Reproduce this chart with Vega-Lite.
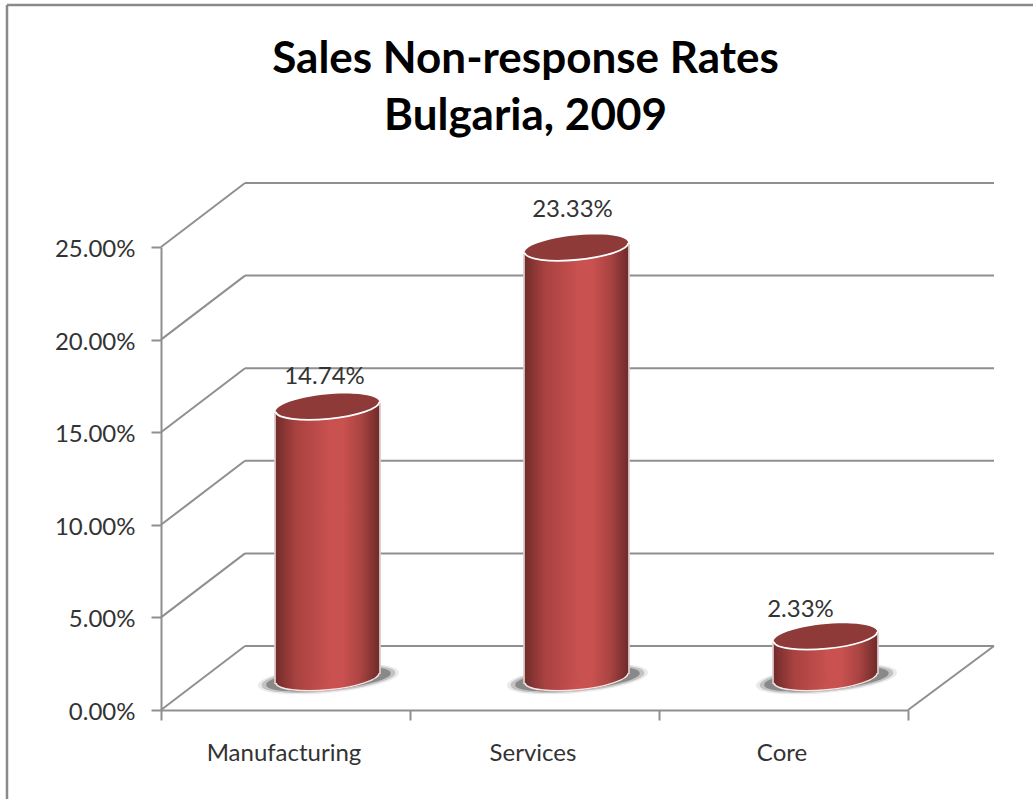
{
  "$schema": "https://vega.github.io/schema/vega-lite/v6.json",
  "width": 1033,
  "height": 799,
  "padding": 0,
  "autosize": "none",
  "background": "white",
  "title": {
    "text": ["Sales Non-response Rates", "Bulgaria, 2009"],
    "font": "Lato",
    "fontWeight": "bold",
    "fontSize": 44,
    "lineHeight": 57,
    "color": "#000000",
    "anchor": "middle",
    "frame": "group",
    "dx": 9,
    "dy": 143
  },
  "config": {"view": {"stroke": null}},
  "datasets": {
    "rates": [
      {"sector": "Manufacturing", "rate": 0.1474},
      {"sector": "Services", "rate": 0.2333},
      {"sector": "Core", "rate": 0.0233}
    ],
    "levels": [
      {"level": 0},
      {"level": 0.05},
      {"level": 0.1},
      {"level": 0.15},
      {"level": 0.2},
      {"level": 0.25}
    ]
  },
  "resolve": {"scale": {"x": "independent"}},
  "layer": [
    {
      "description": "Outer frame, top edge; this layer also carries the rate axis",
      "data": {"values": [{"edge": "top"}]},
      "mark": {"type": "rule", "color": "#8a8a8a", "strokeWidth": 2.5},
      "encoding": {
        "x": {"datum": 0, "type": "quantitative", "scale": {"domain": [0, 1], "range": [7, 1033]}, "axis": null},
        "x2": {"datum": 1},
        "y": {
          "datum": 0.3807,
          "type": "quantitative",
          "scale": {"domain": [0, 0.25], "range": [710, 247], "nice": false, "zero": false},
          "axis": {
            "orient": "left",
            "offset": -161,
            "values": [0, 0.05, 0.1, 0.15, 0.2, 0.25],
            "format": ".2%",
            "grid": false,
            "title": null,
            "domainColor": "#8f8f8f",
            "domainWidth": 2,
            "tickColor": "#8f8f8f",
            "tickWidth": 2,
            "tickSize": 10,
            "labelFont": "Lato",
            "labelFontSize": 24,
            "labelColor": "#333333",
            "labelPadding": 16,
            "labelOffset": 2.5
          }
        }
      }
    },
    {
      "description": "Outer frame, left edge",
      "data": {"values": [{"edge": "left"}]},
      "mark": {"type": "rule", "color": "#8a8a8a", "strokeWidth": 2.5},
      "encoding": {
        "x": {"datum": 0, "type": "quantitative", "scale": {"domain": [0, 1], "range": [7, 1033]}, "axis": null},
        "y": {"datum": 0.3807, "type": "quantitative"},
        "y2": {"datum": -0.0481}
      }
    },
    {
      "description": "Back wall gridlines",
      "data": {"name": "levels"},
      "mark": {"type": "rule", "color": "#8f8f8f", "strokeWidth": 2, "xOffset": 84, "x2Offset": 86, "yOffset": -64, "y2Offset": -64},
      "encoding": {
        "x": {"datum": 0, "type": "quantitative", "scale": {"domain": [0, 3], "range": [161, 908]}, "axis": null},
        "x2": {"datum": 3},
        "y": {"field": "level", "type": "quantitative"},
        "y2": {"field": "level"}
      }
    },
    {
      "description": "Side wall gridlines running from the front axis to the back wall",
      "data": {"name": "levels"},
      "mark": {"type": "rule", "color": "#8f8f8f", "strokeWidth": 2, "x2Offset": 84, "y2Offset": -64},
      "encoding": {
        "x": {"datum": 0, "type": "quantitative", "scale": {"domain": [0, 3], "range": [161, 908]}, "axis": null},
        "x2": {"datum": 0},
        "y": {"field": "level", "type": "quantitative"},
        "y2": {"field": "level"}
      }
    },
    {
      "description": "Right edge of the floor",
      "data": {"values": [{"level": 0}]},
      "mark": {"type": "rule", "color": "#8f8f8f", "strokeWidth": 2, "x2Offset": 86, "y2Offset": -64},
      "encoding": {
        "x": {"datum": 3, "type": "quantitative", "scale": {"domain": [0, 3], "range": [161, 908]}, "axis": null},
        "x2": {"datum": 3},
        "y": {"field": "level", "type": "quantitative"},
        "y2": {"field": "level"}
      }
    },
    {
      "description": "Soft floor shadow, outer",
      "data": {"name": "rates"},
      "mark": {"type": "point", "filled": true, "fill": "#888888", "stroke": null, "opacity": 0.18, "xOffset": 43, "yOffset": -31, "size": 20000,
        "shape": "M-0.995,0.096A1,0.19,-5.5,1,1,0.995,-0.096A1,0.19,-5.5,1,1,-0.995,0.096Z"},
      "encoding": {
        "x": {"field": "sector", "type": "nominal", "sort": null, "scale": {"type": "band", "domain": ["Manufacturing", "Services", "Core"], "range": [161, 908], "padding": 0}, "axis": null},
        "y": {"datum": 0, "type": "quantitative"}
      }
    },
    {
      "description": "Soft floor shadow, middle",
      "data": {"name": "rates"},
      "mark": {"type": "point", "filled": true, "fill": "#666666", "stroke": null, "opacity": 0.3, "xOffset": 43, "yOffset": -31, "size": 18000,
        "shape": "M-0.995,0.096A1,0.18,-5.5,1,1,0.995,-0.096A1,0.18,-5.5,1,1,-0.995,0.096Z"},
      "encoding": {
        "x": {"field": "sector", "type": "nominal", "sort": null, "scale": {"type": "band", "domain": ["Manufacturing", "Services", "Core"], "range": [161, 908], "padding": 0}, "axis": null},
        "y": {"datum": 0, "type": "quantitative"}
      }
    },
    {
      "description": "Soft floor shadow, inner",
      "data": {"name": "rates"},
      "mark": {"type": "point", "filled": true, "fill": "#444444", "stroke": null, "opacity": 0.45, "xOffset": 43, "yOffset": -31, "size": 15600,
        "shape": "M-0.995,0.096A1,0.17,-5.5,1,1,0.995,-0.096A1,0.17,-5.5,1,1,-0.995,0.096Z"},
      "encoding": {
        "x": {"field": "sector", "type": "nominal", "sort": null, "scale": {"type": "band", "domain": ["Manufacturing", "Services", "Core"], "range": [161, 908], "padding": 0}, "axis": null},
        "y": {"datum": 0, "type": "quantitative"}
      }
    },
    {
      "description": "Column base",
      "data": {"name": "rates"},
      "mark": {"type": "point", "filled": true, "stroke": null, "opacity": 1, "xOffset": 42, "yOffset": -32, "size": 10816,
        "fill": {"gradient": "linear", "x1": 0, "x2": 1, "y1": 0, "y2": 0, "stops": [
          {"offset": 0, "color": "#6f2b2a"}, {"offset": 0.2, "color": "#a84240"}, {"offset": 0.5, "color": "#c9514f"},
          {"offset": 0.65, "color": "#c9514f"}, {"offset": 0.82, "color": "#a94442"}, {"offset": 1, "color": "#6a2928"}]},
        "shape": "M-0.995,0.096A1,0.235,-5.5,1,1,0.995,-0.096A1,0.235,-5.5,1,1,-0.995,0.096Z"},
      "encoding": {
        "x": {"field": "sector", "type": "nominal", "sort": null, "scale": {"type": "band", "domain": ["Manufacturing", "Services", "Core"], "range": [161, 908], "padding": 0}, "axis": null},
        "y": {"datum": 0, "type": "quantitative"}
      }
    },
    {
      "description": "Column body, left half; this layer also carries the category axis",
      "data": {"name": "rates"},
      "mark": {"type": "bar", "width": 56, "xOffset": 17, "yOffset": -24, "y2Offset": -26, "stroke": null,
        "fill": {"gradient": "linear", "x1": 0, "x2": 1, "y1": 0, "y2": 0, "stops": [
          {"offset": 0, "color": "#6f2b2a"}, {"offset": 0.38, "color": "#a84240"}, {"offset": 1, "color": "#c9514f"}]}},
      "encoding": {
        "x": {
          "field": "sector",
          "type": "nominal",
          "sort": null,
          "scale": {"type": "band", "domain": ["Manufacturing", "Services", "Core"], "range": [161, 908], "padding": 0},
          "axis": {
            "orient": "bottom",
            "offset": -89,
            "title": null,
            "labelAngle": 0,
            "tickBand": "extent",
            "domainColor": "#8f8f8f",
            "domainWidth": 2,
            "tickColor": "#8f8f8f",
            "tickWidth": 2,
            "tickSize": 10,
            "labelFont": "Lato",
            "labelFontSize": 24,
            "labelColor": "#333333",
            "labelPadding": 21,
            "labelOffset": -2
          }
        },
        "y": {"field": "rate", "type": "quantitative"},
        "y2": {"datum": 0}
      }
    },
    {
      "description": "Column body, right half",
      "data": {"name": "rates"},
      "mark": {"type": "bar", "width": 53, "xOffset": 68.5, "yOffset": -34, "y2Offset": -36, "stroke": null,
        "fill": {"gradient": "linear", "x1": 0, "x2": 1, "y1": 0, "y2": 0, "stops": [
          {"offset": 0, "color": "#c9514f"}, {"offset": 0.3, "color": "#c9514f"}, {"offset": 0.64, "color": "#a94442"}, {"offset": 1, "color": "#6a2928"}]}},
      "encoding": {
        "x": {"field": "sector", "type": "nominal", "sort": null, "scale": {"type": "band", "domain": ["Manufacturing", "Services", "Core"], "range": [161, 908], "padding": 0}, "axis": null},
        "y": {"field": "rate", "type": "quantitative"},
        "y2": {"datum": 0}
      }
    },
    {
      "description": "Pale outline on the left side of each column",
      "data": {"name": "rates"},
      "mark": {"type": "rule", "color": "#f2e6e6", "strokeWidth": 1.5, "xOffset": -10.5, "yOffset": -24, "y2Offset": -26},
      "encoding": {
        "x": {"field": "sector", "type": "nominal", "sort": null, "scale": {"type": "band", "domain": ["Manufacturing", "Services", "Core"], "range": [161, 908], "padding": 0}, "axis": null},
        "y": {"field": "rate", "type": "quantitative"},
        "y2": {"datum": 0}
      }
    },
    {
      "description": "Pale outline on the right side of each column",
      "data": {"name": "rates"},
      "mark": {"type": "rule", "color": "#f2e6e6", "strokeWidth": 1.5, "xOffset": 94.5, "yOffset": -34, "y2Offset": -36},
      "encoding": {
        "x": {"field": "sector", "type": "nominal", "sort": null, "scale": {"type": "band", "domain": ["Manufacturing", "Services", "Core"], "range": [161, 908], "padding": 0}, "axis": null},
        "y": {"field": "rate", "type": "quantitative"},
        "y2": {"datum": 0}
      }
    },
    {
      "description": "Pale rim along the lower edge of the base",
      "data": {"name": "rates"},
      "mark": {"type": "point", "filled": false, "fill": null, "stroke": "#f2e6e6", "strokeWidth": 1.5, "opacity": 1, "xOffset": 42, "yOffset": -32, "size": 10816,
        "shape": "M-0.995,0.096A1,0.235,-5.5,0,0,0.995,-0.096"},
      "encoding": {
        "x": {"field": "sector", "type": "nominal", "sort": null, "scale": {"type": "band", "domain": ["Manufacturing", "Services", "Core"], "range": [161, 908], "padding": 0}, "axis": null},
        "y": {"datum": 0, "type": "quantitative"}
      }
    },
    {
      "description": "Column top",
      "data": {"name": "rates"},
      "mark": {"type": "point", "filled": true, "fill": "#8d3a38", "stroke": null, "opacity": 1, "xOffset": 42, "yOffset": -30, "size": 10816,
        "shape": "M-0.995,0.096A1,0.235,-5.5,1,1,0.995,-0.096A1,0.235,-5.5,1,1,-0.995,0.096Z"},
      "encoding": {
        "x": {"field": "sector", "type": "nominal", "sort": null, "scale": {"type": "band", "domain": ["Manufacturing", "Services", "Core"], "range": [161, 908], "padding": 0}, "axis": null},
        "y": {"field": "rate", "type": "quantitative"}
      }
    },
    {
      "description": "White rim along the lower edge of the top",
      "data": {"name": "rates"},
      "mark": {"type": "point", "filled": false, "fill": null, "stroke": "#ffffff", "strokeWidth": 1.8, "opacity": 1, "xOffset": 42, "yOffset": -30, "size": 10816,
        "shape": "M-0.995,0.096A1,0.235,-5.5,0,0,0.995,-0.096"},
      "encoding": {
        "x": {"field": "sector", "type": "nominal", "sort": null, "scale": {"type": "band", "domain": ["Manufacturing", "Services", "Core"], "range": [161, 908], "padding": 0}, "axis": null},
        "y": {"field": "rate", "type": "quantitative"}
      }
    },
    {
      "description": "Value label, Manufacturing",
      "data": {"name": "rates"},
      "transform": [{"filter": "datum.sector === 'Manufacturing'"}],
      "mark": {"type": "text", "font": "Lato", "fontSize": 24, "color": "#333333", "dx": 39, "dy": -60, "baseline": "middle"},
      "encoding": {
        "x": {"field": "sector", "type": "nominal", "sort": null, "scale": {"type": "band", "domain": ["Manufacturing", "Services", "Core"], "range": [161, 908], "padding": 0}, "axis": null},
        "y": {"field": "rate", "type": "quantitative"},
        "text": {"field": "rate", "type": "quantitative", "format": ".2%"}
      }
    },
    {
      "description": "Value label, Services",
      "data": {"name": "rates"},
      "transform": [{"filter": "datum.sector === 'Services'"}],
      "mark": {"type": "text", "font": "Lato", "fontSize": 24, "color": "#333333", "dx": 38, "dy": -68, "baseline": "middle"},
      "encoding": {
        "x": {"field": "sector", "type": "nominal", "sort": null, "scale": {"type": "band", "domain": ["Manufacturing", "Services", "Core"], "range": [161, 908], "padding": 0}, "axis": null},
        "y": {"field": "rate", "type": "quantitative"},
        "text": {"field": "rate", "type": "quantitative", "format": ".2%"}
      }
    },
    {
      "description": "Value label, Core",
      "data": {"name": "rates"},
      "transform": [{"filter": "datum.sector === 'Core'"}],
      "mark": {"type": "text", "font": "Lato", "fontSize": 24, "color": "#333333", "dx": 17, "dy": -57, "baseline": "middle"},
      "encoding": {
        "x": {"field": "sector", "type": "nominal", "sort": null, "scale": {"type": "band", "domain": ["Manufacturing", "Services", "Core"], "range": [161, 908], "padding": 0}, "axis": null},
        "y": {"field": "rate", "type": "quantitative"},
        "text": {"field": "rate", "type": "quantitative", "format": ".2%"}
      }
    }
  ]
}
